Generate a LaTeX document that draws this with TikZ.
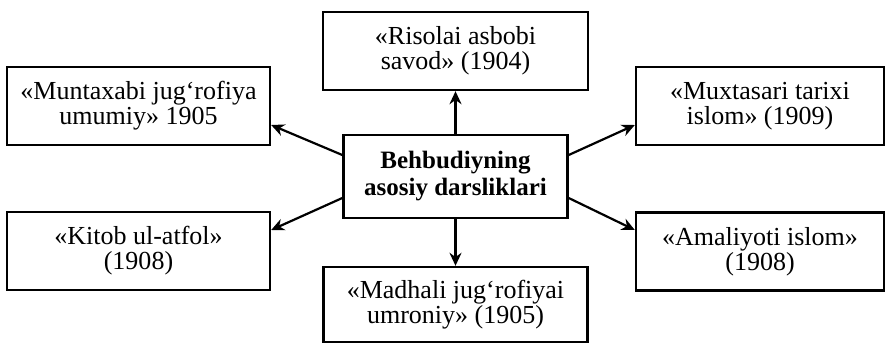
\documentclass[tikz,border=0pt]{standalone}
\usepackage{fontspec}
\setmainfont{Liberation Serif}
\usetikzlibrary{arrows.meta}
\begin{document}
\begin{tikzpicture}[x=1pt,y=-1pt,
  box/.style={draw,line width=2.4pt,align=center,inner sep=0pt,
    font=\fontsize{26}{25}\selectfont},
  arr/.style={line width=2.2pt,-{Stealth[length=13pt,width=12pt]}}]
\useasboundingbox (0,0) rectangle (886,345);
\node[box,minimum width=265pt,minimum height=78pt] (top) at (455.5,51) {«Risolai asbobi\\savod» (1904)};
\node[box,minimum width=263pt,minimum height=78pt] (mun) at (138.5,106) {«Muntaxabi jug‘rofiya\\umumiy» 1905};
\node[box,minimum width=248pt,minimum height=78pt] (mux) at (760,106) {«Muxtasari tarixi\\islom» (1909)};
\node[box,minimum width=224pt,minimum height=83pt,font=\fontsize{25}{27}\selectfont\bfseries] (c) at (455.5,176.5) {Behbudiyning\\asosiy darsliklari};
\node[box,minimum width=263pt,minimum height=78pt] (kit) at (138.5,251) {«Kitob ul-atfol»\\(1908)};
\node[box,minimum width=248pt,minimum height=78pt] (ama) at (760,251.5) {«Amaliyoti islom»\\(1908)};
\node[box,minimum width=264pt,minimum height=75pt] (mad) at (455.5,304.5) {«Madhali jug‘rofiyai\\umroniy» (1905)};
\draw[arr] (c.north) -- (top.south);
\draw[arr] (c.south) -- (mad.north);
\draw[arr] ([yshift=21.5pt]c.west) -- ([yshift=-19pt]mun.east);
\draw[arr] ([yshift=21.5pt]c.east) -- ([yshift=-19pt]mux.west);
\draw[arr] ([yshift=-21.5pt]c.west) -- ([yshift=21pt]kit.east);
\draw[arr] ([yshift=-21.5pt]c.east) -- ([yshift=21.5pt]ama.west);
\end{tikzpicture}
\end{document}
